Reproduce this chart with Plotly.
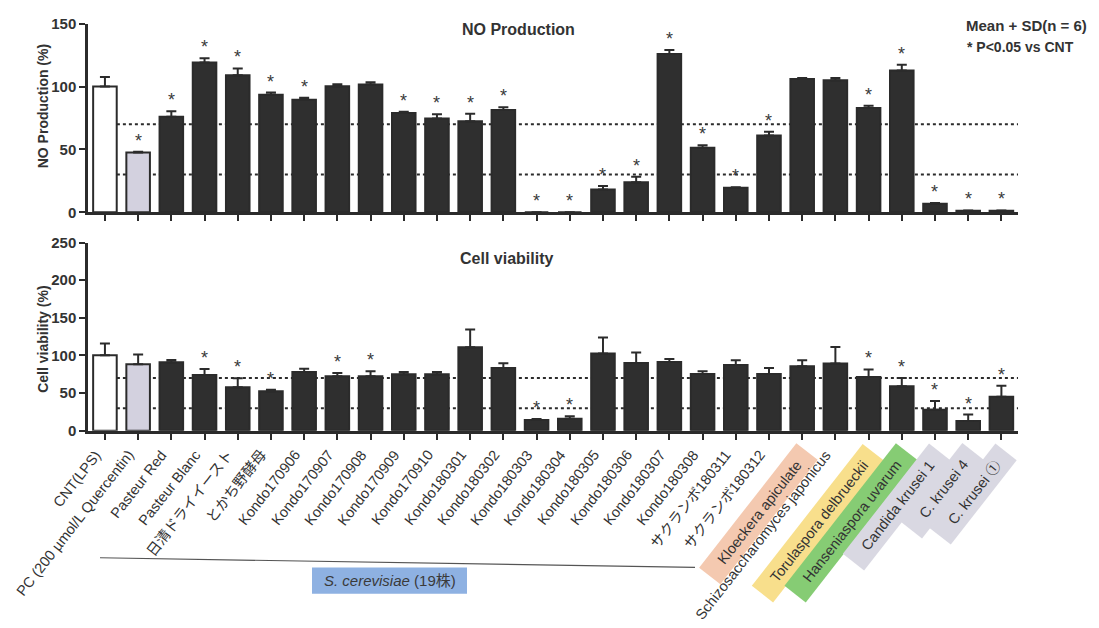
import plotly.graph_objects as go

W, H = 1099, 628

categories = [
    "CNT(LPS)", "PC (200 µmol/L Quercentin)", "Pasteur Red", "Pasteur Blanc",
    "日清ドライイースト", "とかち野酵母", "Kondo170906", "Kondo170907", "Kondo170908",
    "Kondo170909", "Kondo170910", "Kondo180301", "Kondo180302", "Kondo180303",
    "Kondo180304", "Kondo180305", "Kondo180306", "Kondo180307", "Kondo180308",
    "サクランボ180311", "サクランボ180312", "Kloeckera apiculate",
    "Schizosaccharomyces japonicus", "Torulaspora delbrueckii", "Hanseniaspora uvarum",
    "Candida krusei 1", "C. krusei 4", "C. krusei ①",
]

no_mean = [100, 47.6, 76, 119, 109, 93.4, 89.5, 100.3, 101.6, 79, 74.6, 72.3, 81.3, 0, 0,
           18.2, 23.9, 125.8, 51.4, 19.5, 61, 106, 105, 83, 112.7, 6.9, 1.2, 1.2]
no_sd = [7.5, 0.5, 4.4, 3.4, 5.4, 1.8, 1.5, 1.5, 1.8, 1.0, 3.4, 6.0, 2.3, 0, 0,
         2.8, 4.3, 3.3, 2.0, 0.5, 3.0, 0.8, 1.7, 1.8, 4.6, 0.5, 0.3, 0.3]
no_sig = [0, 1, 1, 1, 1, 1, 1, 0, 0, 1, 1, 1, 1, 1, 1, 1, 1, 1, 1, 1, 1, 0, 0, 1, 1, 1, 1, 1]

cv_mean = [100.3, 88.3, 90.9, 74.1, 57.7, 52.5, 78, 72.4, 72.4, 75, 75, 110.8, 83.2, 14.2,
           15.9, 102.5, 90, 91.3, 75.4, 87.3, 75.4, 85.7, 89.2, 71.5, 59, 28, 12.9, 45.3]
cv_sd = [15.6, 13, 3, 7.8, 12, 1.8, 4.3, 4.3, 6.5, 3, 3, 23.7, 6.5, 1.3, 3.5, 21.5, 14,
         3.9, 3.5, 6.5, 7.8, 7.8, 22, 10, 11, 11.6, 8.6, 14.6]
cv_sig = [0, 0, 0, 1, 1, 1, 0, 1, 1, 0, 0, 0, 0, 1, 1, 0, 0, 0, 0, 0, 0, 0, 0, 1, 1, 1, 1, 1]

threshold_lines = [70, 30]
label_bg = {21: "#f4c9b0", 23: "#f8df8c", 24: "#86cc74", 25: "#d9d8e2", 26: "#d9d8e2", 27: "#d9d8e2"}
group_label = "<i>S. cerevisiae</i> (19株)"

FONT = "Liberation Sans, Arial, Noto Sans CJK JP, sans-serif"
DARK = "#2b2b2b"
TXT = "#333333"

n = len(categories)
xs = list(range(n))
fills = ["#ffffff", "#d3d1df"] + ["#2f2f2f"] * (n - 2)

x_dom = [88 / W, 1018 / W]
top_dom = [1 - 209 / H, 1 - 15 / H]
bot_dom = [1 - 433.5 / H, 1 - 240 / H]

fig = go.Figure()
for mean, sd, xa, ya in [(no_mean, no_sd, "x", "y"), (cv_mean, cv_sd, "x2", "y2")]:
    fig.add_trace(go.Bar(
        x=xs, y=mean, xaxis=xa, yaxis=ya, width=0.71,
        marker=dict(color=fills, line=dict(color=DARK, width=2)),
        error_y=dict(type="data", symmetric=False, array=sd, arrayminus=[0] * n,
                     color=DARK, thickness=2, width=5),
        showlegend=False, hoverinfo="skip",
    ))

axis_common = dict(showline=True, linecolor=DARK, linewidth=2.5, ticks="outside",
                   ticklen=6, tickwidth=2, tickcolor=DARK, showgrid=False, zeroline=False)
fig.update_layout(
    width=W, height=H, margin=dict(l=0, r=0, t=0, b=0),
    paper_bgcolor="white", plot_bgcolor="white",
    font=dict(family=FONT, color=TXT),
    xaxis=dict(domain=x_dom, anchor="y", range=[-0.51, 27.5], tickvals=xs,
               showticklabels=False, **axis_common),
    yaxis=dict(domain=top_dom, anchor="x", range=[0, 150], tickvals=[0, 50, 100, 150],
               tickfont=dict(size=15, family=FONT, color=TXT, weight="bold"), **axis_common),
    xaxis2=dict(domain=x_dom, anchor="y2", range=[-0.51, 27.5], tickvals=xs,
                showticklabels=False, **axis_common),
    yaxis2=dict(domain=bot_dom, anchor="x2", range=[0, 250], tickvals=[0, 50, 100, 150, 200, 250],
                tickfont=dict(size=15, family=FONT, color=TXT, weight="bold"), **axis_common),
)

# threshold dotted lines
for xr, yr in [("x", "y"), ("x2", "y2")]:
    for v in threshold_lines:
        fig.add_shape(type="line", xref=xr, yref=yr, x0=0.36, x1=27.5, y0=v, y1=v,
                      line=dict(color=DARK, width=2, dash="dot"), layer="below")

ann = []
# significance stars
for mean, sd, sig, xr, yr in [(no_mean, no_sd, no_sig, "x", "y"), (cv_mean, cv_sd, cv_sig, "x2", "y2")]:
    for i in range(n):
        if sig[i]:
            ann.append(dict(x=i, y=mean[i] + sd[i], xref=xr, yref=yr, text="*", showarrow=False,
                            xanchor="center", yanchor="bottom", yshift=-1,
                            font=dict(size=18, color="#3a3a3a")))

# category labels (rotated)
for i, c in enumerate(categories):
    bg = label_bg.get(i)
    txt = c
    xsh, ysh = 7, -8
    if bg:
        txt = "\u00a0\u00a0\u00a0" + c + "\u00a0\u00a0"
        xsh, ysh = 16, -12
    ann.append(dict(x=i, y=0, xref="x2", yref="y2", text=txt, showarrow=False,
                    textangle=-52, xanchor="right", yanchor="top", yshift=ysh, xshift=xsh,
                    bgcolor=bg if bg else "rgba(0,0,0,0)", borderpad=5,
                    font=dict(size=14.5, color=TXT, family=FONT)))

# titles and notes
def note(x, y, text, size, angle=0, color=TXT):
    return dict(x=x / W, y=1 - y / H, xref="paper", yref="paper", text=text, showarrow=False,
                xanchor="center", yanchor="middle", textangle=angle,
                font=dict(size=size, color=color, family=FONT))

ann += [
    note(518, 21, "<b>NO Production</b>", 16),
    note(506, 256, "<b>Cell viability</b>", 16),
    note(43, 100, "<b>NO Production (%)</b>", 14, -90),
    note(43, 340, "<b>Cell viability (%)</b>", 14, -90),
    note(1026, 17, "<b>Mean + SD(n = 6)</b>", 15),
    note(1020, 39, "<b>* P<0.05 vs CNT</b>", 14),
    note(389.5, 587.5, group_label, 15, 0, "#3a3a3a"),
]
fig.update_layout(annotations=ann)

# group bracket line and blue box
fig.add_shape(type="line", xref="paper", yref="paper", x0=100 / W, x1=695 / W,
              y0=1 - 564 / H, y1=1 - 574 / H, line=dict(color="#555", width=1.2))
fig.add_shape(type="rect", xref="paper", yref="paper", x0=312 / W, x1=467 / W,
              y0=1 - 601 / H, y1=1 - 574 / H, fillcolor="#8eb1e2", line=dict(width=0), layer="below")

fig.write_html("out.html")
